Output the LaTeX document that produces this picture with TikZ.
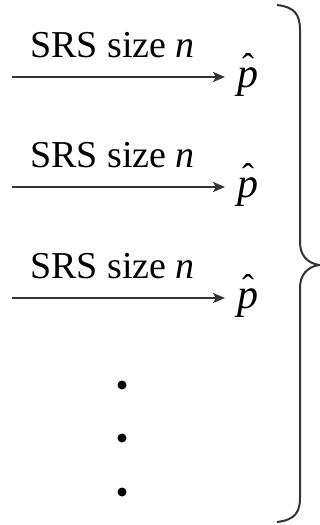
\documentclass[tikz,border=0pt]{standalone}
\usepackage{fontspec}
\setmainfont{Liberation Serif}
\usetikzlibrary{arrows.meta}
\definecolor{lineGray}{RGB}{51, 51, 51}
\newcommand{\phat}{\rlap{\hspace{5pt}\raisebox{9pt}{\fontsize{36}{36}\selectfont\char"02C6}}\textit{p}}

\begin{document}
\begin{tikzpicture}[x=1pt, y=-1pt, font=\fontsize{38}{44}\selectfont]
      \useasboundingbox (0,0) rectangle (320,525);

      % samples drawn from the population
      \foreach \row/\y in {1/77, 2/187, 3/298} {
        \coordinate (start\row) at (12,\y);
        \node[anchor=base west, inner xsep=12pt, inner ysep=0pt, font=\fontsize{42}{44}\selectfont]
          (phat\row) at (225,\y+10) {\phat};
        \draw[lineGray, line width=2pt, -{Stealth[length=12pt, width=10pt, inset=3pt]}]
          (start\row) -- (phat\row.west |- start\row)
          node[midway, above=18pt, inner sep=0pt, black, xshift=-6pt] {SRS size \textit{n}};
      }

      \fill (122,385) circle (4.5);
      \fill (122,438) circle (4.5);
      \fill (122,492) circle (4.5);

      \draw[lineGray, line width=2pt] (277,5) .. controls (295,7) and (300,15) .. (300,30)
        -- (300,242) .. controls (300,255) and (307,263) .. (319,265)
        .. controls (307,267) and (300,275) .. (300,288)
        -- (300,498) .. controls (300,512) and (295,520) .. (277,522);
    \end{tikzpicture}
\end{document}
